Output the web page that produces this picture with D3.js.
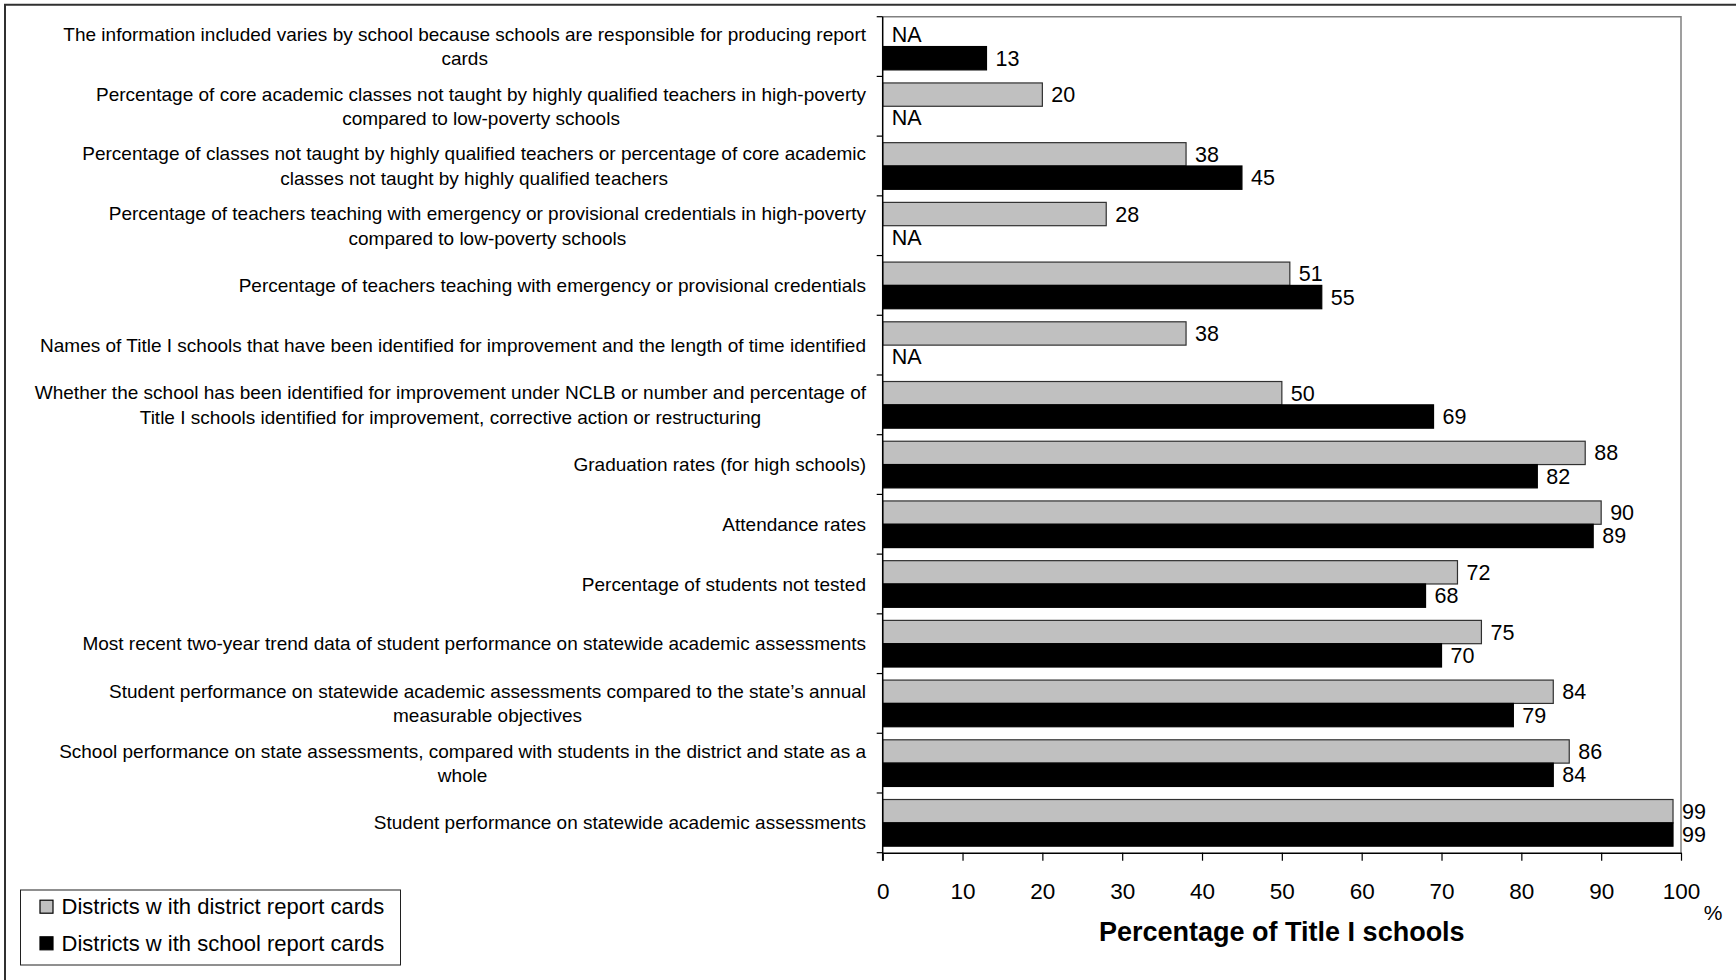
<!DOCTYPE html>
<html><head><meta charset="utf-8">
<script src="https://cdn.jsdelivr.net/npm/d3@7"></script>
<style>
body{margin:0;background:#fff}
svg{display:block}
text{font-family:"Liberation Sans",Arial,Helvetica,sans-serif;fill:#000}
</style>
</head><body>
<svg id="chart" width="1736" height="980"></svg>
<script>
// ---------------- data ----------------
const categories = [
  "The information included varies by school because schools are responsible for producing report\ncards",
  "Percentage of core academic classes not taught by highly qualified teachers in high-poverty\ncompared to low-poverty schools",
  "Percentage of classes not taught by highly qualified teachers or percentage of core academic\nclasses not taught by highly qualified teachers",
  "Percentage of teachers teaching with emergency or provisional credentials in high-poverty\ncompared to low-poverty schools",
  "Percentage of teachers teaching with emergency or provisional credentials",
  "Names of Title I schools that have been identified for improvement and the length of time identified",
  "Whether the school has been identified for improvement under NCLB or number and percentage of\nTitle I schools identified for improvement, corrective action or restructuring",
  "Graduation rates (for high schools)",
  "Attendance rates",
  "Percentage of students not tested",
  "Most recent two-year trend data of student performance on statewide academic assessments",
  "Student performance on statewide academic assessments compared to the state\u2019s annual\nmeasurable objectives",
  "School performance on state assessments, compared with students in the district and state as a\nwhole",
  "Student performance on statewide academic assessments"
];
const districtReportValues = [null, 20, 38, 28, 51, 38, 50, 88, 90, 72, 75, 84, 86, 99];
const schoolReportValues   = [13, null, 45, null, 55, null, 69, 82, 89, 68, 70, 79, 84, 99];
const seriesNames = ["Districts w ith district report cards", "Districts w ith school report cards"];
const seriesColors = ["#c0c0c0", "#000000"];
const xTickValues = [0, 10, 20, 30, 40, 50, 60, 70, 80, 90, 100];
const xAxisTitle = "Percentage of Title I schools";
const unitLabel = "%";
const missingLabel = "NA";

// ---------------- layout ----------------
const W = 1736, H = 980;
const plot = {left: 882.7, right: 1681, top: 16.7, bottom: 852.7};
const svg = d3.select("#chart");

// outer frame (runs off right/bottom edges)
svg.append("path")
  .attr("d", `M5,${H + 10} V4.7 H${W + 10}`)
  .attr("fill", "none").attr("stroke", "#303030").attr("stroke-width", 2);

const x = d3.scaleLinear().domain([0, 100]).range([plot.left, plot.right]);
const y = d3.scaleBand().domain(d3.range(categories.length))
  .range([plot.top, plot.bottom]).paddingInner(0).paddingOuter(0);
const ySub = d3.scaleBand().domain([0, 1]).range([0, y.bandwidth()])
  .paddingInner(0).paddingOuter(0.28);

// plot area frame (top & right, gray)
svg.append("path")
  .attr("d", `M${plot.left},${plot.top} H${plot.right} V${plot.bottom}`)
  .attr("fill", "none").attr("stroke", "#808080").attr("stroke-width", 1.5);

// bars
const series = [districtReportValues, schoolReportValues];
const strokes = ["#303030", "#000000"];
series.forEach((vals, si) => {
  const g = svg.append("g");
  vals.forEach((v, i) => {
    const by = y(i) + ySub(si);
    if (v != null) {
      g.append("rect")
        .attr("x", x(0)).attr("y", by)
        .attr("width", x(v) - x(0)).attr("height", ySub.bandwidth())
        .attr("fill", seriesColors[si])
        .attr("stroke", strokes[si]).attr("stroke-width", 1.2);
    }
    g.append("text")
      .attr("x", x(v == null ? 0 : v) + 9)
      .attr("y", by + ySub.bandwidth() / 2)
      .attr("dy", "0.35em")
      .style("font-size", "21.5px")
      .text(v == null ? missingLabel : v);
  });
});

// y axis line + ticks at category boundaries
const yBoundaries = d3.range(categories.length + 1).map(i => plot.top + i * y.step());
const yAx = svg.append("g");
yAx.append("line").attr("x1", plot.left).attr("x2", plot.left)
  .attr("y1", plot.top).attr("y2", plot.bottom + 8)
  .attr("stroke", "#000").attr("stroke-width", 1.5);
yAx.selectAll("line.tk").data(yBoundaries).join("line").attr("class", "tk")
  .attr("x1", plot.left - 6).attr("x2", plot.left)
  .attr("y1", d => d).attr("y2", d => d)
  .attr("stroke", "#000").attr("stroke-width", 1.2);

// category labels (block right-aligned, lines centered)
const labelRight = 866;
const lineH = 24.4;
categories.forEach((c, i) => {
  const lines = c.split("\n");
  const cy = y(i) + y.bandwidth() / 2;
  const g = svg.append("g");
  const ts = lines.map((ln, k) => g.append("text")
    .attr("y", cy + (k - (lines.length - 1) / 2) * lineH)
    .attr("dy", "0.35em")
    .attr("text-anchor", "middle")
    .style("font-size", "19px")
    .text(ln));
  const maxW = d3.max(ts, t => t.node().getComputedTextLength());
  ts.forEach(t => t.attr("x", labelRight - maxW / 2));
});

// x axis
const xAxis = d3.axisBottom(x).tickValues(xTickValues).tickSize(8).tickPadding(22).tickSizeOuter(0);
const gx = svg.append("g").attr("transform", `translate(0,${plot.bottom})`).call(xAxis);
gx.select(".domain").attr("stroke", "#000").attr("stroke-width", 1.5);
gx.selectAll(".tick line").attr("stroke", "#000").attr("stroke-width", 1.2);
gx.selectAll(".tick text").style("font-size", "22.5px")
  .style("font-family", '"Liberation Sans",Arial,sans-serif').attr("fill", "#000");

svg.append("text")
  .attr("x", (plot.left + plot.right) / 2).attr("y", 941)
  .attr("text-anchor", "middle")
  .style("font-size", "27px").style("font-weight", "bold")
  .text(xAxisTitle);

svg.append("text")
  .attr("x", 1713).attr("y", 913).attr("dy", "0.35em")
  .attr("text-anchor", "middle")
  .style("font-size", "21px")
  .text(unitLabel);

// legend
const lg = svg.append("g");
lg.append("rect").attr("x", 20.5).attr("y", 890).attr("width", 380).attr("height", 75)
  .attr("fill", "#fff").attr("stroke", "#202020").attr("stroke-width", 1);
seriesNames.forEach((name, i) => {
  const cy = 906.7 + i * 36.6;
  lg.append("rect").attr("x", 40).attr("y", cy - 6.5).attr("width", 13).attr("height", 13)
    .attr("fill", seriesColors[i]).attr("stroke", "#000").attr("stroke-width", 1.2);
  lg.append("text").attr("x", 61.5).attr("y", cy).attr("dy", "0.35em")
    .style("font-size", "22px").text(name);
});
</script>
</body></html>
